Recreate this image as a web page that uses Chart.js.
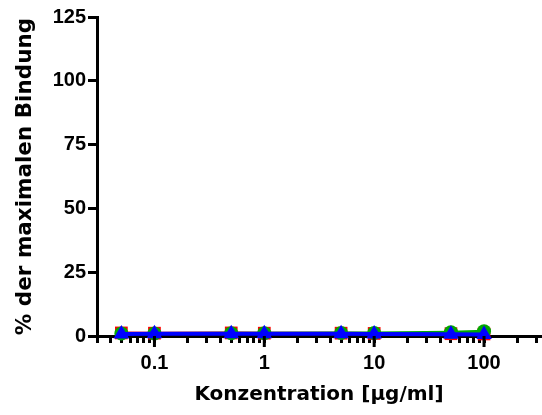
<!DOCTYPE html>
<html>
<head>
<meta charset="utf-8">
<script src="https://cdn.jsdelivr.net/npm/chart.js@4"></script>
<style>
  html, body { margin: 0; padding: 0; background: #fff; overflow: hidden; }
  #wrap { width: 542px; height: 415px; position: relative; }
  canvas { display: block; }
</style>
</head>
<body>
<div id="wrap"><canvas id="bindung"></canvas></div>
<script>
// Konzentrationen (µg/ml)
const konzentrationen = [0.05, 0.1, 0.5, 1, 5, 10, 50, 100];
// % der maximalen Bindung je Reihe
const reiheRot = [1.2, 1.1, 1.2, 1.1, 1.1, 1.0, 0.9, 0.8];
const reiheGruen = [1.0, 1.0, 1.1, 1.1, 1.2, 1.2, 1.5, 1.9];
const reiheBlau = [0.8, 0.9, 0.9, 0.9, 0.9, 0.8, 0.7, 0.6];
// Achsenbeschriftung
const xHauptTicks = [0.1, 1, 10, 100];
const xNebenTicks = [0.03, 0.04, 0.05, 0.06, 0.07, 0.08, 0.09,
  0.2, 0.3, 0.4, 0.5, 0.6, 0.7, 0.8, 0.9,
  2, 3, 4, 5, 6, 7, 8, 9,
  20, 30, 40, 50, 60, 70, 80, 90,
  200, 300];
const yTicks = [0, 25, 50, 75, 100, 125];

const schrift = 'Liberation Sans, Arial, sans-serif';
const titelSchrift = 'DejaVu Sans, Verdana, sans-serif';

function punkte(werte) {
  return konzentrationen.map((x, i) => ({ x: x, y: werte[i] }));
}

// längere Striche für die Hauptticks
const hauptStriche = {
  id: 'hauptStriche',
  afterDraw(chart) {
    const xs = chart.scales.x;
    const ctx = chart.ctx;
    ctx.save();
    ctx.strokeStyle = '#000';
    ctx.lineWidth = 3;
    xHauptTicks.forEach(v => {
      const px = xs.getPixelForValue(v);
      ctx.beginPath();
      ctx.moveTo(px, xs.top);
      ctx.lineTo(px, xs.top + 11);
      ctx.stroke();
    });
    ctx.restore();
  }
};

new Chart(document.getElementById('bindung'), {
  type: 'line',
  data: {
    // erster Datensatz liegt oben
    datasets: [
      {
        data: punkte(reiheBlau),
        borderColor: '#0000ff', backgroundColor: '#0000ff',
        borderWidth: 4, pointStyle: 'triangle', pointRadius: 9, pointBorderWidth: 0
      },
      {
        data: punkte(reiheGruen),
        borderColor: '#00a800', backgroundColor: '#00a800',
        borderWidth: 3, pointStyle: 'circle', pointRadius: 7, pointBorderWidth: 0
      },
      {
        data: punkte(reiheRot),
        borderColor: '#ff0000', backgroundColor: '#ff0000',
        borderWidth: 3, pointStyle: 'rect', pointRadius: 9, pointBorderWidth: 0
      }
    ]
  },
  options: {
    responsive: true,
    maintainAspectRatio: false,
    animation: false,
    clip: false,
    layout: { autoPadding: false, padding: { top: 17, right: 1, left: 0, bottom: 0 } },
    plugins: { legend: { display: false }, tooltip: { enabled: false } },
    scales: {
      x: {
        type: 'logarithmic',
        min: 0.03,
        max: 330,
        border: { color: '#000', width: 3 },
        grid: { drawOnChartArea: false, drawTicks: true, tickLength: 7, tickWidth: 3, tickColor: '#000' },
        afterBuildTicks(scale) {
          scale.ticks = xHauptTicks.concat(xNebenTicks).sort((a, b) => a - b).map(v => ({ value: v }));
        },
        afterFit(scale) {
          scale.height = 79;
          scale.paddingLeft = 0;
          scale.paddingRight = 0;
        },
        ticks: {
          autoSkip: false,
          maxRotation: 0,
          padding: 8,
          color: '#000',
          font: { family: schrift, size: 20, weight: 'bold' },
          callback(v) { return xHauptTicks.includes(v) ? String(v) : ''; }
        },
        title: {
          display: true,
          text: 'Konzentration [µg/ml]',
          color: '#000',
          font: { family: titelSchrift, size: 20, weight: 'bold' },
          padding: { top: 4, bottom: 8 }
        }
      },
      y: {
        min: 0,
        max: 125,
        border: { color: '#000', width: 3 },
        grid: { drawOnChartArea: false, drawTicks: true, tickLength: 9, tickWidth: 3, tickColor: '#000' },
        afterBuildTicks(scale) {
          scale.ticks = yTicks.map(v => ({ value: v }));
        },
        afterFit(scale) { scale.width = 97; },
        ticks: {
          padding: 2,
          color: '#000',
          font: { family: schrift, size: 20, weight: 'bold' }
        },
        title: {
          display: true,
          text: '% der maximalen Bindung',
          color: '#000',
          font: { family: titelSchrift, size: 21.5, weight: 'bold' },
          padding: { top: 13, bottom: 2 }
        }
      }
    }
  },
  plugins: [hauptStriche]
});
</script>
</body>
</html>
